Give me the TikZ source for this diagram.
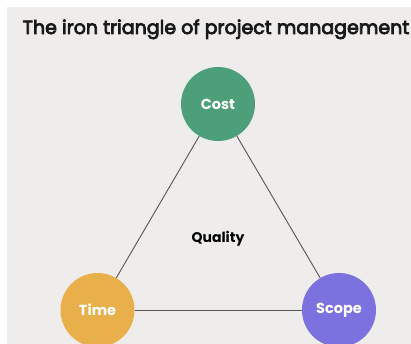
\documentclass[tikz,border=0pt]{standalone}
\usepackage{fontspec}
\setmainfont{Poppins}
\newfontfamily\titlefont{Poppins}[FakeBold=4]
\definecolor{bgc}{HTML}{EFEDEB}
\definecolor{costc}{HTML}{4C9F79}
\definecolor{timec}{HTML}{E9AF4B}
\definecolor{scopec}{HTML}{7C72DF}
\definecolor{linec}{HTML}{555555}
\begin{document}
\begin{tikzpicture}[x=1pt,y=-1pt,
  ball/.style={circle, minimum size=74pt, inner sep=0pt, text=white, font=\fontsize{14.5}{16}\selectfont\bfseries},
  edge/.style={draw=linec, line width=0.9pt}]
\useasboundingbox (0,0) rectangle (411,344);
\clip (0,0) rectangle (411,344);
\fill[white] (0,0) rectangle (411,344);
\fill[bgc] (7,7) rectangle (411,344);
\node[anchor=base west, inner sep=0pt, font=\titlefont\fontsize{19}{22}\selectfont, text=black!90] (title) at (22.5,34) {The iron triangle of project management};
\node[ball, fill=costc] (cost) at (218,104) {Cost};
\node[ball, fill=timec] (time) at (97.5,310) {Time};
\node[ball, fill=scopec] (scope) at (339,310) {Scope};
\node[font=\fontsize{14}{16}\selectfont\bfseries] (quality) at (218,239) {Quality};
\draw[edge] (cost) -- (time);
\draw[edge] (cost) -- (scope);
\draw[edge] (time) -- (scope);
\end{tikzpicture}
\end{document}
